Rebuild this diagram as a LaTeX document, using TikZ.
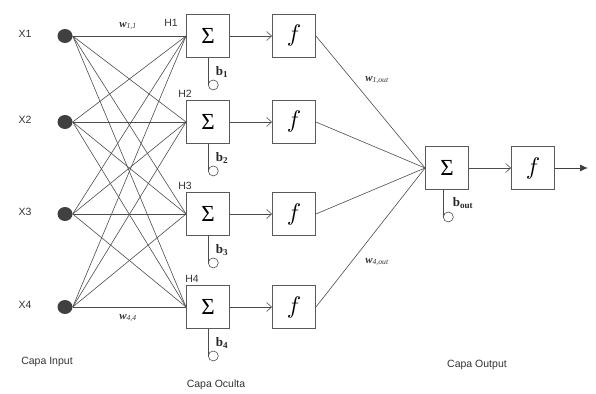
\documentclass[tikz,border=0pt]{standalone}
\usepackage{fontspec}
\setmainfont{Liberation Serif}
\setsansfont{Liberation Sans}
\usetikzlibrary{arrows.meta,shapes.geometric}
\begin{document}
\begin{tikzpicture}[x=1pt,y=-1pt,
  lbl/.style={font=\sffamily\fontsize{10.5}{12}\selectfont, text=black!80},
  dot/.style={ellipse, fill=black!75, inner sep=0pt, minimum width=15pt, minimum height=14pt},
  box/.style={draw=black!65, line width=0.9pt, minimum width=43pt, minimum height=43pt, inner sep=0pt},
  wire/.style={draw=black!70, line width=0.6pt},
  sumtxt/.style={font=\rmfamily\fontsize{23}{25}\selectfont},
  ftxt/.style={},
  wl/.style={font=\bfseries\itshape\fontsize{11}{12}\selectfont, text=black!80},
  bl/.style={font=\bfseries\fontsize{13}{14}\selectfont, text=black!85}
]
\useasboundingbox (0,0) rectangle (596,393);

% inputs
\foreach \i/\y in {1/36,2/122,3/214,4/307}{
  \node[dot] (X\i) at (65,\y) {};
  \node[lbl] (XL\i) at (25,\y-2) {X\i};
  \node[box, sumtxt] (S\i) at (208,\y) {Σ};
  \node[box, ftxt] (F\i) at (294,\y) {\scalebox{2.4}{$f$}};
  \draw[wire, -{Straight Barb[length=5pt,width=9pt]}] (S\i.east) -- (F\i.west);
  \coordinate (B\i) at ([yshift=-27pt]S\i.south);
  \draw[wire] (S\i.south) -- (B\i);
  \node[circle, draw=black!70, line width=0.6pt, minimum size=10pt, inner sep=0pt, anchor=west] (C\i) at (B\i) {};
  \node[bl] (BL\i) at ([xshift=14pt,yshift=-14pt]S\i.south) {b\textsubscript{\i}};
}
\foreach \i in {1,...,4}{
  \foreach \j in {1,...,4}{
    \draw[wire] (X\i.east) -- (S\j.west);
  }
}
\node[lbl] (H1) at (171,23) {H1};
\node[lbl] (H2) at (185,94) {H2};
\node[lbl] (H3) at (185,186) {H3};
\node[lbl] (H4) at (192,279) {H4};

\node[wl] (w11) at (128,26) {w\textsubscript{\mdseries 1,1}};
\node[wl] (w44) at (128,318) {w\textsubscript{\mdseries 4,4}};

% output
\node[box, sumtxt] (SO) at (447,168) {Σ};
\node[box, ftxt] (FO) at (533,168) {\scalebox{2.4}{$f$}};
\draw[wire, -{Straight Barb[length=5pt,width=9pt]}] (SO.east) -- (FO.west);
\coordinate (OUT) at (588,168);
\draw[draw=black!75, line width=0.9pt, -{Latex[length=8pt,width=7pt]}] (FO.east) -- (OUT);
\foreach \i in {1,...,4}{
  \draw[wire] (F\i.east) -- (SO.west);
}
\coordinate (BO) at ([xshift=-4pt,yshift=-27pt]SO.south);
\draw[wire] ([xshift=-4pt]SO.south) -- (BO);
\node[circle, draw=black!70, line width=0.6pt, minimum size=10pt, inner sep=0pt, anchor=west] (CO) at (BO) {};
\node[bl] (BLO) at (463,203) {b\textsubscript{out}};

\node[wl] (w1o) at (377,80) {w\textsubscript{\mdseries 1,out}};
\node[wl] (w4o) at (377,262) {w\textsubscript{\mdseries 4,out}};

\node[lbl] (CI) at (47,362) {Capa Input};
\node[lbl] (CC) at (216,385) {Capa Oculta};
\node[lbl] (CP) at (477,365) {Capa Output};
\end{tikzpicture}
\end{document}
